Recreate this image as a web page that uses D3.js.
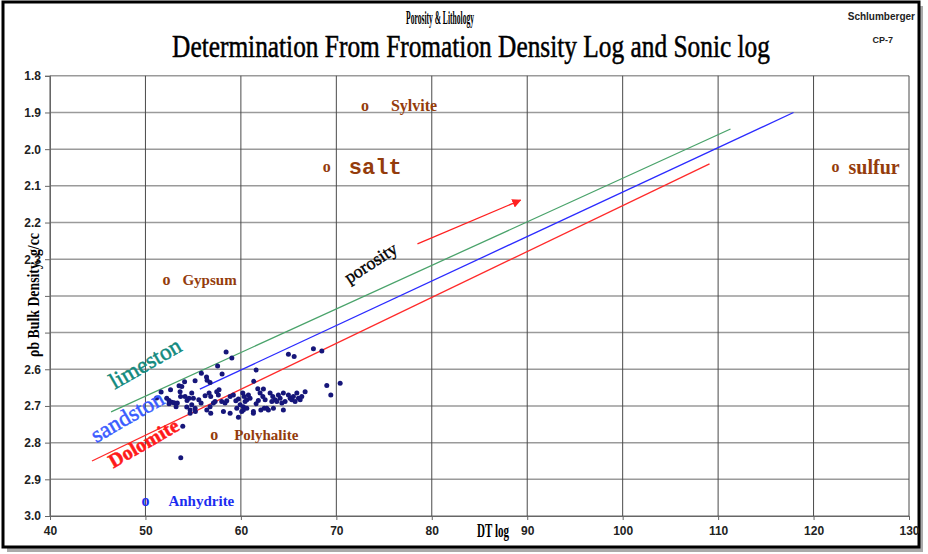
<!DOCTYPE html>
<html>
<head>
<meta charset="utf-8">
<script src="https://cdn.jsdelivr.net/npm/d3@7"></script>
<style>
  body { margin: 0; background: #fff; }
  svg { display: block; }
</style>
</head>
<body>
<script>
// chart values
var xTicks = [40, 50, 60, 70, 80, 90, 100, 110, 120, 130];
var yTicks = [1.8, 1.9, 2.0, 2.1, 2.2, 2.3, 2.4, 2.5, 2.6, 2.7, 2.8, 2.9, 3.0];

// lithology lines (DT, rho_b at both ends)
var lineNames = ["limeston", "sandston", "Dolomite"];
var lineStartDT = [46.4, 55.7, 44.4];
var lineStartRho = [2.716, 2.654, 2.85];
var lineEndDT = [111.3, 117.9, 109.1];
var lineEndRho = [1.945, 1.90, 2.04];

// minerals
var mineralNames = ["Sylvite", "salt", "sulfur", "Gypsum", "Polyhalite", "Anhydrite"];
var mineralDT = [73.0, 69.0, 122.3, 52.2, 57.2, 50.0];
var mineralRho = [1.882, 2.049, 2.05, 2.357, 2.78, 2.96];

// porosity arrow
var arrowDT = [78.5, 89.3];
var arrowRho = [2.258, 2.139];

// measured samples
var sampleDT = [58.45, 59.05, 57.56, 58.03, 55.86, 56.40, 56.46, 56.77, 55.20, 54.10,
  53.81, 53.52, 52.63, 51.64, 51.17, 52.23, 52.47, 52.76, 53.00, 52.47,
  53.63, 53.68, 54.15, 54.36, 54.57, 54.85, 53.34, 53.21, 54.33, 54.68,
  55.23, 55.59, 55.83, 56.25, 56.67, 56.84, 57.47, 57.71, 57.64, 57.12,
  56.77, 56.43, 56.84, 57.99, 58.34, 58.52, 58.87, 59.21, 59.47, 59.74,
  60.20, 60.34, 59.92, 60.26, 60.44, 60.62, 60.09, 60.26, 59.57, 60.79,
  60.96, 61.31, 61.35, 61.59, 61.77, 62.01, 62.36, 62.30, 62.54, 62.09,
  62.44, 62.88, 63.41, 63.06, 63.34, 63.58, 63.93, 64.11, 64.45, 64.98,
  65.16, 65.33, 65.50, 65.68, 65.86, 66.03, 66.21, 66.38, 66.73, 64.63,
  64.29, 64.98, 65.58, 67.60, 68.48, 69.00, 69.42, 70.40, 53.91, 53.70,
  63.76, 63.24, 61.83, 61.59, 55.02, 54.85, 55.20, 57.30, 58.17, 58.87,
  54.68, 59.74, 61.31, 64.45, 62.71, 60.62];
var sampleRho = [2.553, 2.569, 2.591, 2.613, 2.611, 2.621, 2.630, 2.636, 2.631, 2.634,
  2.647, 2.645, 2.656, 2.662, 2.678, 2.679, 2.685, 2.690, 2.691, 2.694,
  2.661, 2.674, 2.674, 2.685, 2.679, 2.665, 2.692, 2.702, 2.703, 2.711,
  2.715, 2.683, 2.692, 2.672, 2.665, 2.674, 2.661, 2.656, 2.670, 2.692,
  2.702, 2.711, 2.720, 2.688, 2.692, 2.686, 2.674, 2.670, 2.686, 2.681,
  2.665, 2.674, 2.697, 2.702, 2.688, 2.683, 2.715, 2.711, 2.706, 2.670,
  2.679, 2.715, 2.633, 2.602, 2.653, 2.665, 2.654, 2.674, 2.683, 2.711,
  2.706, 2.711, 2.706, 2.665, 2.674, 2.683, 2.670, 2.679, 2.665, 2.670,
  2.679, 2.683, 2.674, 2.688, 2.665, 2.679, 2.683, 2.674, 2.661, 2.688,
  2.692, 2.559, 2.565, 2.544, 2.550, 2.644, 2.670, 2.638, 2.755, 2.841,
  2.688, 2.688, 2.685, 2.694, 2.679, 2.697, 2.706, 2.688, 2.715, 2.720,
  2.720, 2.731, 2.720, 2.711, 2.706, 2.706];

// styles
var lineColors = ["#4aa36b", "#2b2bff", "#ff2a2a"];
var lineLabelColors = ["#138a7e", "#3a5cff", "#ff1a1a"];
var lineLabelPos = [[149, 370], [131, 423], [147, 449]];
var mineralColors = ["#943c0c", "#943c0c", "#943c0c", "#943c0c", "#943c0c", "#1c2cf0"];
var mineralLabelDx = [26, 22, 13, 16, 20, 23];
var mineralFont = [
  "bold 16px 'Liberation Serif'", "bold 22px 'Liberation Mono'", "bold 20px 'Liberation Serif'",
  "bold 15px 'Liberation Serif'", "bold 15px 'Liberation Serif'", "bold 15px 'Liberation Serif'"];

var width = 928, height = 554;
var svg = d3.select('body').append('svg')
  .attr('width', width)
  .attr('height', height);

// squeeze a text horizontally to a given width (condensed look)
function squeeze(sel, cx, cy, w, rot) {
  var len = sel.node().getComputedTextLength();
  sel.attr('text-anchor', 'middle')
    .attr('transform', 'translate(' + cx + ',' + cy + ')' + (rot ? ' rotate(' + rot + ')' : '') + ' scale(' + (w / len) + ',1)');
  return sel;
}

// outer frame with shadow
svg.append('rect').attr('x', 7).attr('y', 6).attr('width', 916).attr('height', 546)
  .attr('fill', '#aaa');
svg.append('rect').attr('x', 3).attr('y', 2).attr('width', 916).attr('height', 545)
  .attr('fill', '#fff').attr('stroke', '#000').attr('stroke-width', 3);

var x = d3.scaleLinear().domain([40, 130]).range([50, 909]);
var y = d3.scaleLinear().domain([1.8, 3.0]).range([75.8, 516]);

// grid
svg.append('g').selectAll('line').data(yTicks).enter().append('line')
  .attr('x1', x(40)).attr('x2', x(130))
  .attr('y1', function(d){ return y(d); })
  .attr('y2', function(d){ return y(d); })
  .attr('stroke', '#9a9a9a').attr('stroke-width', 1.5);
svg.append('g').selectAll('line').data(xTicks).enter().append('line')
  .attr('x1', function(d){ return x(d); })
  .attr('x2', function(d){ return x(d); })
  .attr('y1', y(1.8)).attr('y2', y(3.0))
  .attr('stroke', '#4a4a4a').attr('stroke-width', 1);

// axes
var yAxis = svg.append('g').attr('transform', 'translate(' + x(40) + ',0)')
  .call(d3.axisLeft(y).tickValues(yTicks).tickFormat(d3.format('.1f')).tickSize(5).tickPadding(4));
var xAxis = svg.append('g').attr('transform', 'translate(0,' + y(3.0) + ')')
  .call(d3.axisBottom(x).tickValues(xTicks).tickSize(4).tickPadding(6));
[xAxis, yAxis].forEach(function(a){
  a.select('.domain').attr('stroke', '#666');
  a.selectAll('.tick line').attr('stroke', '#666');
  a.selectAll('text').attr('fill', '#222')
    .style('font', 'bold 12px "Liberation Sans"');
});

// lithology lines
svg.append('g').selectAll('line').data(lineNames).enter().append('line')
  .attr('x1', function(d, i){ return x(lineStartDT[i]); })
  .attr('y1', function(d, i){ return y(lineStartRho[i]); })
  .attr('x2', function(d, i){ return x(lineEndDT[i]); })
  .attr('y2', function(d, i){ return y(lineEndRho[i]); })
  .attr('stroke', function(d, i){ return lineColors[i]; })
  .attr('stroke-width', 1.3);

// samples
svg.append('g').selectAll('circle').data(sampleDT).enter().append('circle')
  .attr('cx', function(d){ return x(d); })
  .attr('cy', function(d, i){ return y(sampleRho[i]); })
  .attr('r', 2.5)
  .attr('fill', '#16167a');

// line labels
svg.append('g').selectAll('text').data(lineNames).enter().append('text')
  .attr('transform', function(d, i){ return 'translate(' + lineLabelPos[i][0] + ',' + lineLabelPos[i][1] + ') rotate(-30)'; })
  .attr('text-anchor', 'middle')
  .attr('fill', function(d, i){ return lineLabelColors[i]; })
  .attr('stroke', function(d, i){ return lineLabelColors[i]; })
  .attr('stroke-width', 0.5)
  .style('font', function(d, i){ return (i == 2 ? 'bold 20px' : '23px') + ' "Liberation Serif"'; })
  .text(function(d){ return d; });

// porosity arrow
svg.append('defs').append('marker')
  .attr('id', 'head').attr('viewBox', '0 0 10 10').attr('refX', 9).attr('refY', 5)
  .attr('markerWidth', 7).attr('markerHeight', 7).attr('orient', 'auto')
  .append('path').attr('d', 'M0,0L10,5L0,10z').attr('fill', '#ff2020');
svg.append('line')
  .attr('x1', x(arrowDT[0])).attr('y1', y(arrowRho[0]))
  .attr('x2', x(arrowDT[1])).attr('y2', y(arrowRho[1]))
  .attr('stroke', '#ff2020').attr('stroke-width', 1.3)
  .attr('marker-end', 'url(#head)');
svg.append('text')
  .attr('transform', 'translate(374,268) rotate(-33)')
  .attr('text-anchor', 'middle')
  .attr('stroke', '#000').attr('stroke-width', 0.4)
  .style('font', '18px "Liberation Serif"')
  .attr('fill', '#000')
  .text('porosity');

// minerals
var min = svg.append('g').selectAll('g').data(mineralNames).enter().append('g')
  .attr('transform', function(d, i){ return 'translate(' + x(mineralDT[i]) + ',' + y(mineralRho[i]) + ')'; });
min.append('text')
  .attr('text-anchor', 'middle').attr('dy', '0.3em')
  .attr('fill', function(d, i){ return mineralColors[i]; })
  .style('font', 'bold 16px "Liberation Serif"')
  .text('o');
min.append('text')
  .attr('x', function(d, i){ return mineralLabelDx[i]; })
  .attr('dy', '0.3em')
  .attr('fill', function(d, i){ return mineralColors[i]; })
  .style('font', function(d, i){ return mineralFont[i]; })
  .text(function(d){ return d; });

// titles
squeeze(svg.append('text').style('font', 'bold 19px "Liberation Serif"').text('Porosity & Lithology'),
  440, 24, 68);
squeeze(svg.append('text').attr('stroke', '#000').attr('stroke-width', 0.5)
  .style('font', '31px "Liberation Serif"').text('Determination From Fromation Density Log and Sonic log'),
  471, 57, 598);
svg.append('text').attr('x', 915).attr('y', 20).attr('text-anchor', 'end')
  .style('font', 'bold 10px "Liberation Sans"').attr('fill', '#222').text('Schlumberger');
svg.append('text').attr('x', 893).attr('y', 43).attr('text-anchor', 'end')
  .style('font', 'bold 9px "Liberation Sans"').attr('fill', '#222').text('CP-7');

// axis titles
squeeze(svg.append('text').style('font', 'bold 18px "Liberation Serif"').text('DT log'),
  493, 537, 32);
svg.append('rect').attr('x', 22).attr('y', 280).attr('width', 22).attr('height', 72).attr('fill', '#fff');
squeeze(svg.append('text').style('font', 'bold 17px "Liberation Serif"').text('ρb Bulk Density, g/cc'),
  39, 295, 124, -90);
</script>
</body>
</html>
